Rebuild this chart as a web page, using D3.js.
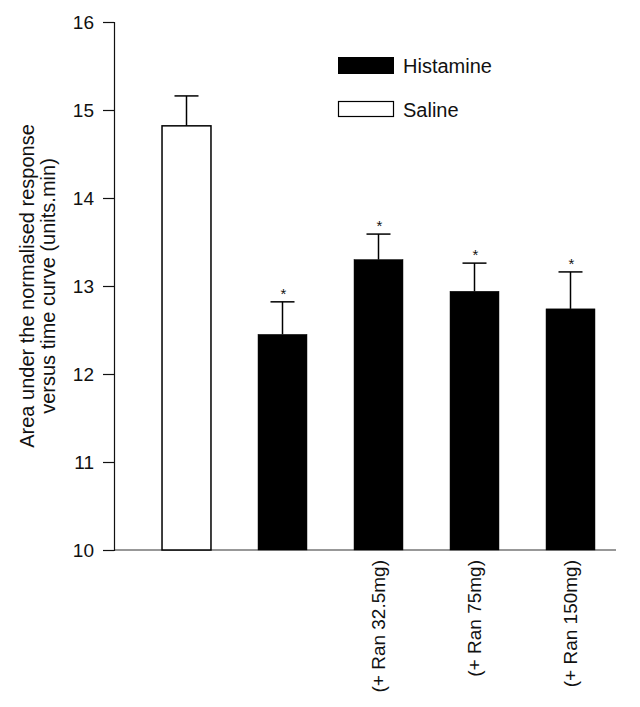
<!DOCTYPE html>
<html>
<head>
<meta charset="utf-8">
<script src="https://cdn.jsdelivr.net/npm/d3@7"></script>
<style>
  html, body { margin: 0; padding: 0; background: #fff; }
  svg { display: block; }
  text { font-family: "Liberation Sans", Arial, Helvetica, sans-serif; fill: #111; }
</style>
</head>
<body>
<svg id="chart" width="640" height="707"></svg>
<script>
// ---- data ----
const categories = ["Saline", "Histamine", "Histamine + Ran 32.5mg", "Histamine + Ran 75mg", "Histamine + Ran 150mg"];
const tickLabels = ["", "", "(+ Ran 32.5mg)", "(+ Ran 75mg)", "(+ Ran 150mg)"];
const values = [14.82, 12.45, 13.30, 12.94, 12.74];
const errors = [0.34, 0.37, 0.29, 0.32, 0.42];
const groups = ["Saline", "Histamine", "Histamine", "Histamine", "Histamine"];
const significant = [false, true, true, true, true];
const legendLabels = ["Histamine", "Saline"];
const yTicks = [10, 11, 12, 13, 14, 15, 16];
const yLabelLines = ["Area under the normalised response", "versus time curve (units.min)"];

const data = categories.map((c, i) => ({ c, label: tickLabels[i], v: values[i], e: errors[i], g: groups[i], sig: significant[i] }));

const svg = d3.select("#chart");
const fill = { Histamine: "#000", Saline: "#fff" };

const y = d3.scaleLinear().domain([10, 16]).range([550, 22]);
const x = d3.scaleBand().domain(categories).range([138.5, 618.5]).paddingInner(0.49).paddingOuter(0.245);

// x baseline
svg.append("line").attr("x1", 114).attr("x2", 616).attr("y1", y(10)).attr("y2", y(10))
  .attr("stroke", "#333").attr("stroke-width", 1.2);

// y axis
const yAxis = svg.append("g").attr("transform", "translate(114,0)")
  .call(d3.axisLeft(y).tickValues(yTicks).tickSize(11).tickPadding(9).tickFormat(d3.format("d")));
yAxis.select(".domain").attr("stroke", "#111").attr("stroke-width", 1.2);
yAxis.selectAll(".tick line").attr("stroke", "#111").attr("stroke-width", 1.2);
yAxis.selectAll(".tick text").style("font-size", "19px").attr("fill", "#111")
  .style("font-family", "'Liberation Sans', Arial, Helvetica, sans-serif");

// y label
const yl = svg.append("text").attr("transform", `translate(0,${(y(10) + y(16)) / 2}) rotate(-90)`)
  .attr("text-anchor", "middle").style("font-size", "20px");
yLabelLines.forEach((t, i) => {
  yl.append("tspan").attr("x", 0).attr("y", 34 + i * 20.5).text(t);
});

// error bars
const cw = 12;
const eb = svg.append("g").selectAll("g").data(data).join("g");
eb.append("line")
  .attr("x1", d => x(d.c) + x.bandwidth() / 2).attr("x2", d => x(d.c) + x.bandwidth() / 2)
  .attr("y1", d => y(d.v)).attr("y2", d => y(d.v + d.e))
  .attr("stroke", "#000").attr("stroke-width", 1.5);
eb.append("line")
  .attr("x1", d => x(d.c) + x.bandwidth() / 2 - cw).attr("x2", d => x(d.c) + x.bandwidth() / 2 + cw)
  .attr("y1", d => y(d.v + d.e)).attr("y2", d => y(d.v + d.e))
  .attr("stroke", "#000").attr("stroke-width", 1.5);

// bars
svg.append("g").selectAll("rect").data(data).join("rect")
  .attr("x", d => x(d.c)).attr("width", x.bandwidth())
  .attr("y", d => y(d.v)).attr("height", d => y(10) - y(d.v))
  .attr("fill", d => fill[d.g])
  .attr("stroke", "#000").attr("stroke-width", d => d.g === "Saline" ? 1.5 : 0.5);

// significance asterisks
svg.append("g").selectAll("text").data(data.filter(d => d.sig)).join("text")
  .attr("x", d => x(d.c) + x.bandwidth() / 2 + 1)
  .attr("y", d => y(d.v + d.e) - 3)
  .attr("text-anchor", "middle").style("font-size", "15px")
  .text("*");

// x tick labels (rotated)
svg.append("g").selectAll("text").data(data).join("text")
  .attr("transform", d => `translate(${x(d.c) + x.bandwidth() / 2},560) rotate(-90)`)
  .attr("text-anchor", "end").attr("dy", "0.35em").style("font-size", "19px")
  .text(d => d.label);

// legend
const lg = svg.append("g");
legendLabels.forEach((g, i) => {
  const yy = 57 + i * 44;
  lg.append("rect").attr("x", g === "Saline" ? 338.5 : 338).attr("y", g === "Saline" ? yy + 0.5 : yy)
    .attr("width", g === "Saline" ? 55 : 56).attr("height", g === "Saline" ? 15 : 17)
    .attr("fill", fill[g]).attr("stroke", "#000").attr("stroke-width", g === "Saline" ? 1.2 : 0);
  lg.append("text").attr("x", 403).attr("y", yy + 16).style("font-size", "20px").text(g);
});
</script>
</body>
</html>
